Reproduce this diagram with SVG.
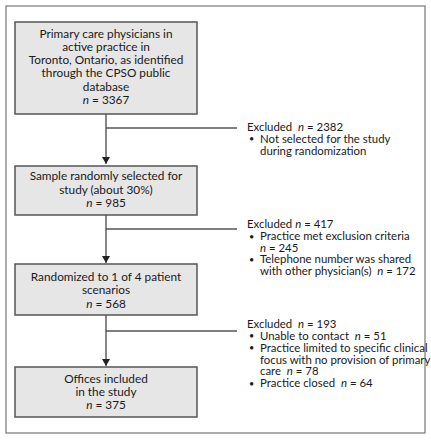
<svg xmlns="http://www.w3.org/2000/svg" width="431" height="440" viewBox="0 0 431 440">
<defs>
<style>
text{font-family:Lato,"Liberation Sans",sans-serif;font-size:11.4px;fill:#1a1a1a;white-space:pre}
.c{text-anchor:middle;font-size:11.8px}
.i{font-style:italic}
.b{font-size:9px}
.box{fill:#e6e6e6;stroke:#555;stroke-width:1.5}
.ln{stroke:#555;stroke-width:1.4;fill:none}
</style>
<marker id="ah" markerWidth="8" markerHeight="8" refX="7" refY="4" orient="auto" markerUnits="userSpaceOnUse">
<path d="M0,0 L7,4 L0,8 Z" fill="#222"/>
</marker>
</defs>
<rect width="431" height="440" fill="#fff"/>
<rect x="6" y="6" width="419" height="427" fill="none" stroke="#777" stroke-width="1.2"/>
<g id="connectors">
<path class="ln" d="M106,114 V164" marker-end="url(#ah)"/>
<path class="ln" d="M106,128 H237"/>
<path class="ln" d="M106,215 V263" marker-end="url(#ah)"/>
<path class="ln" d="M106,229 H237"/>
<path class="ln" d="M106,315 V366" marker-end="url(#ah)"/>
<path class="ln" d="M106,331 H237"/>
</g>
<g id="node1">
<rect class="box" x="15" y="22" width="182" height="92"/>
<text class="c" x="106" y="38">Primary care physicians in</text>
<text class="c" x="106" y="51">active practice in</text>
<text class="c" x="106" y="64">Toronto, Ontario, as identified</text>
<text class="c" x="106" y="77">through the CPSO public</text>
<text class="c" x="106" y="91">database</text>
<text class="c" x="106" y="104"><tspan class="i">n</tspan> = 3367</text>
</g>
<g id="excl1">
<text x="247" y="131" xml:space="preserve">Excluded  <tspan class="i">n</tspan> = 2382</text>
<text class="b" x="249" y="142">•</text>
<text x="260" y="142.5">Not selected for the study</text>
<text x="260" y="154.5">during randomization</text>
</g>
<g id="node2">
<rect class="box" x="15" y="166" width="182" height="49"/>
<text class="c" x="106" y="180">Sample randomly selected for</text>
<text class="c" x="106" y="194">study (about 30%)</text>
<text class="c" x="106" y="207"><tspan class="i">n</tspan> = 985</text>
</g>
<g id="excl2">
<text x="247" y="228">Excluded <tspan class="i">n</tspan> = 417</text>
<text class="b" x="249" y="239.5">•</text>
<text x="260" y="240">Practice met exclusion criteria</text>
<text x="260" y="251.5"><tspan class="i">n</tspan> = 245</text>
<text class="b" x="249" y="262.5">•</text>
<text x="260" y="263">Telephone number was shared</text>
<text x="260" y="275" xml:space="preserve">with other physician(s)  <tspan class="i">n</tspan> = 172</text>
</g>
<g id="node3">
<rect class="box" x="15" y="264" width="182" height="51"/>
<text class="c" x="106" y="281">Randomized to 1 of 4 patient</text>
<text class="c" x="106" y="294">scenarios</text>
<text class="c" x="106" y="308"><tspan class="i">n</tspan> = 568</text>
</g>
<g id="excl3">
<text x="247" y="327.5" xml:space="preserve">Excluded  <tspan class="i">n</tspan> = 193</text>
<text class="b" x="249" y="339">•</text>
<text x="260" y="339.5" xml:space="preserve">Unable to contact  <tspan class="i">n</tspan> = 51</text>
<text class="b" x="249" y="351">•</text>
<text x="260" y="351.5">Practice limited to specific clinical</text>
<text x="260" y="363.5">focus with no provision of primary</text>
<text x="260" y="375" xml:space="preserve">care  <tspan class="i">n</tspan> = 78</text>
<text class="b" x="249" y="386.5">•</text>
<text x="260" y="387" xml:space="preserve">Practice closed  <tspan class="i">n</tspan> = 64</text>
</g>
<g id="node4">
<rect class="box" x="15" y="367" width="182" height="50"/>
<text class="c" x="106" y="383">Offices included</text>
<text class="c" x="106" y="396">in the study</text>
<text class="c" x="106" y="409"><tspan class="i">n</tspan> = 375</text>
</g>
</svg>
